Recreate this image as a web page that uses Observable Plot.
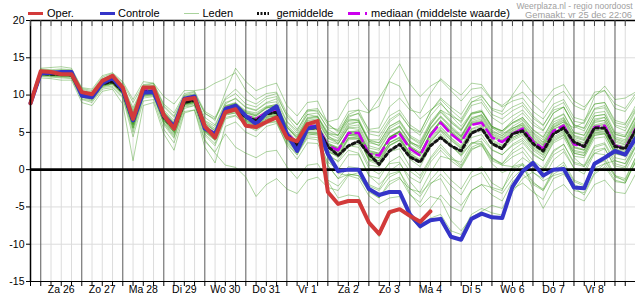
<!DOCTYPE html>
<html>
<head>
<meta charset="utf-8">
<script src="https://cdn.jsdelivr.net/npm/d3@7"></script>
<script src="https://cdn.jsdelivr.net/npm/@observablehq/plot@0.6"></script>
<style>
  body { margin: 0; background: #fff; font-family: "Liberation Sans", Arial, sans-serif; }
  #wrap { position: relative; width: 635px; height: 300px; }
  #legend { position: absolute; left: 0; top: 0; }
</style>
</head>
<body>
<div id="wrap">
  <div id="chart"></div>
  <svg id="legend" width="635" height="20" font-family="Liberation Sans, Arial, sans-serif">
    <g font-size="11" fill="#000">
      <line x1="28" x2="43" y1="13.5" y2="13.5" stroke="#d23a3a" stroke-width="3"/>
      <text x="47" y="17.3">Oper.</text>
      <line x1="100" x2="115" y1="13.5" y2="13.5" stroke="#3434c8" stroke-width="3"/>
      <text x="118" y="17.3">Controle</text>
      <line x1="184" x2="199" y1="13.5" y2="13.5" stroke="#a9d39c" stroke-width="1"/>
      <text x="202.5" y="17.3">Leden</text>
      <line x1="257" x2="269" y1="13.5" y2="13.5" stroke="#111" stroke-width="3" stroke-dasharray="2,1.5"/>
      <text x="276.5" y="17.3">gemiddelde</text>
      <line x1="348" x2="367" y1="13.5" y2="13.5" stroke="#cc00ee" stroke-width="3" stroke-dasharray="12,5"/>
      <text x="371" y="17.3">mediaan (middelste waarde)</text>
    </g>
    <g font-size="8.6" fill="#a0a0a0" text-anchor="end">
      <text x="632.5" y="9" textLength="116" lengthAdjust="spacingAndGlyphs">Weerplaza.nl - regio noordoost</text>
      <text x="632" y="17.5" textLength="107" lengthAdjust="spacingAndGlyphs">Gemaakt: vr 25 dec 22:06</text>
    </g>
  </svg>
</div>
<script>
// 6-hourly temperature forecast (°C), starting 25 Dec 18:00
const startTime = Date.UTC(2020, 11, 25, 18);

const dagLabels = ["Za 26", "Zo 27", "Ma 28", "Di 29", "Wo 30", "Do 31", "Vr 1",
                   "Za 2", "Zo 3", "Ma 4", "Di 5", "Wo 6", "Do 7", "Vr 8"];
const yTicks = [-15, -10, -5, 0, 5, 10, 15, 20];

// operational run (shorter horizon)
const oper = [8.9,13.2,13.1,12.8,12.8,10.4,10.1,11.9,12.6,11.0,
  6.8,11.0,11.0,7.3,5.5,9.4,9.6,5.8,4.3,7.7,
  8.1,5.9,5.7,6.4,7.0,4.3,3.8,6.1,6.5,-3.0,
  -4.6,-4.2,-4.2,-7.1,-8.6,-5.7,-5.3,-6.2,-7.0,-5.6];

// control run
const controle = [8.9,12.9,13.0,13.1,13.1,9.9,9.7,11.6,12.3,10.7,
  6.6,10.3,10.4,7.2,5.8,9.5,9.8,5.5,4.7,8.1,
  8.6,7.2,6.1,7.6,8.5,4.8,2.5,5.5,5.8,2.1,
  -0.2,0.0,0.0,-2.6,-3.4,-3.0,-3.0,-6.0,-7.6,-6.8,
  -6.6,-9.0,-9.4,-6.6,-5.9,-6.4,-6.5,-2.3,-0.2,0.9,
  -0.8,0.0,0.1,-2.4,-2.5,0.8,1.6,2.5,2.0,4.2];

// ensemble mean
const gemiddelde = [8.9,12.9,12.8,12.8,12.7,10.1,9.8,11.5,11.8,10.5,
  6.5,10.4,10.5,7.0,5.5,9.0,9.3,5.6,4.6,7.9,
  8.2,7.0,6.6,7.5,7.7,4.8,3.2,5.6,5.6,3.1,
  1.9,3.2,3.8,2.1,0.7,2.5,3.4,1.7,1.0,3.2,
  4.3,3.2,2.5,4.9,5.5,3.5,2.8,4.8,5.2,3.5,
  2.5,4.8,5.6,3.7,3.1,5.6,5.6,3.1,2.8,5.3];

// ensemble median
const mediaan = [8.9,13.0,12.9,12.9,12.8,10.2,9.9,11.7,12.0,10.8,
  7.0,10.6,10.7,7.3,5.8,9.2,9.5,5.8,4.8,8.3,
  8.5,7.2,6.8,7.7,8.0,4.9,3.6,5.8,5.9,3.2,
  2.6,4.9,4.9,2.1,1.9,4.1,4.8,2.8,1.9,4.6,
  6.3,4.8,3.7,6.0,6.3,4.3,3.7,4.8,5.5,3.8,
  2.8,5.2,5.9,3.4,3.1,5.7,5.9,3.2,2.9,5.5];

// ensemble members
const leden = [
 [8.9,13.1,13.0,13.2,13.0,10.5,10.0,11.8,12.3,10.9,7.5,10.8,11.0,7.8,6.2,9.5,9.9,6.5,5.5,8.5,
  8.9,7.6,7.2,8.3,8.6,5.7,4.4,6.5,6.6,4.2,3.5,5.8,6.0,3.2,2.8,5.0,5.9,3.8,2.9,5.6,
  7.2,5.9,4.6,7.0,7.3,5.3,4.5,5.8,6.6,4.9,3.7,6.1,6.9,4.5,4.0,6.6,7.0,4.2,3.8,6.4],
 [8.8,12.7,12.6,12.5,12.4,9.8,9.4,11.2,11.5,10.1,5.8,10.0,10.1,6.4,4.8,8.6,8.9,5.0,3.9,7.3,
  7.6,6.4,5.9,6.8,7.0,4.0,2.5,4.9,4.8,2.4,1.8,4.0,4.1,1.3,1.0,3.2,3.9,1.9,0.9,3.6,
  5.3,3.9,2.8,5.1,5.2,3.3,2.7,3.9,4.6,2.8,1.9,4.2,4.9,2.4,2.2,4.8,4.9,2.2,1.9,4.5],
 [9.0,13.3,13.2,13.4,13.3,10.8,10.4,12.2,12.7,11.3,8.3,11.3,11.5,8.6,7.2,10.0,10.4,7.5,6.8,9.4,
  10.2,8.8,8.4,9.5,9.8,7.3,6.0,8.0,8.2,6.0,5.2,7.2,7.5,4.8,4.5,6.7,7.6,5.6,4.6,7.2,
  8.8,7.5,6.3,8.6,9.0,7.0,6.1,7.2,8.0,6.4,5.3,7.6,8.4,6.0,5.5,8.1,8.3,5.8,5.2,7.8],
 [8.9,12.8,12.9,13.0,12.9,9.9,9.6,11.4,12.0,10.6,6.2,10.2,10.3,6.9,5.3,9.1,9.5,5.3,4.2,7.8,
  8.4,7.4,6.2,7.4,8.1,4.5,2.8,5.3,5.5,1.5,-0.5,-0.8,-1.2,-3.5,-4.6,-3.8,-3.6,-6.4,-7.9,-6.5,
  -6.0,-8.2,-8.7,-6.0,-5.2,-5.8,-6.1,-3.0,-1.2,-0.3,-1.5,-0.8,-0.4,-2.8,-3.1,-0.4,0.8,1.2,0.8,3.1],
 [8.8,12.6,12.5,12.4,12.3,9.5,9.2,11.0,11.2,9.8,5.0,9.6,9.8,6.0,4.2,8.2,8.6,4.6,3.2,6.8,
  7.2,5.9,5.2,6.2,6.4,3.2,1.4,3.6,3.5,0.5,-1.2,0.4,0.2,-2.2,-2.8,-1.0,-0.3,-2.5,-3.6,-1.4,
  0.2,-1.4,-2.6,-0.3,0.4,-1.8,-2.6,-0.5,0.8,-0.4,-1.2,1.3,2.4,0.2,-0.6,2.2,2.8,0.5,0.2,3.0],
 [9.0,13.5,13.4,13.5,13.4,10.9,10.6,12.4,12.9,11.6,9.0,11.4,11.6,8.8,7.6,10.2,10.5,7.8,7.0,9.6,
  10.8,9.4,8.8,9.8,10.2,7.1,5.4,7.4,7.1,4.6,3.5,5.6,5.4,2.6,2.2,4.4,5.1,3.0,2.2,4.8,
  6.6,5.0,3.9,6.2,6.4,4.5,3.8,5.0,5.6,3.9,3.0,5.4,6.1,3.6,3.2,5.8,6.0,3.4,3.0,5.6],
 [8.9,13.0,12.9,13.0,12.9,10.3,10.0,11.7,12.2,10.9,7.2,10.9,11.0,7.8,6.4,9.6,10.0,6.6,5.8,8.8,
  9.6,8.4,8.0,9.0,9.5,6.5,5.2,7.8,8.0,6.4,6.8,9.2,9.6,7.8,8.5,12.0,14.2,11.5,9.8,11.2,
  12.0,10.6,9.2,10.8,11.0,9.3,8.6,9.7,10.4,8.8,7.6,9.8,10.5,8.6,8.0,10.4,10.6,8.2,7.8,9.8],
 [8.9,12.9,12.7,12.6,12.6,10.0,9.7,11.4,11.7,10.4,6.0,10.3,10.4,6.8,5.2,8.9,9.2,5.4,4.3,7.7,
  8.0,6.9,6.4,7.4,7.6,4.6,3.0,5.5,5.7,3.4,2.8,4.6,4.4,1.8,1.6,4.4,5.2,3.2,2.4,4.2,
  5.8,4.3,3.2,5.5,6.0,4.0,3.3,4.3,5.0,3.2,2.2,4.7,5.5,3.1,2.7,5.2,5.4,2.7,2.6,5.0],
 [9.0,13.2,13.1,13.0,13.0,10.6,10.3,12.1,12.5,11.2,8.0,11.2,11.3,8.4,7.0,9.9,10.2,7.6,6.6,10.4,
  13.6,11.8,10.6,11.2,11.6,8.6,7.2,9.0,9.2,6.2,5.0,6.8,6.6,3.8,3.2,5.2,5.8,3.8,3.0,5.4,
  7.0,5.6,4.4,6.6,7.0,5.0,4.3,5.5,6.2,4.5,3.4,5.8,6.6,4.1,3.6,6.3,6.6,3.9,3.4,6.1],
 [8.8,12.5,12.4,12.3,12.2,9.4,9.0,10.8,11.0,9.6,4.4,9.2,9.4,5.4,3.6,7.8,8.0,3.8,2.4,4.8,
  3.0,2.2,1.6,2.4,2.6,0.4,-1.2,0.6,0.8,-1.4,-2.2,-0.6,-0.8,-3.0,-3.8,-1.6,-1.0,-3.4,-4.4,-2.0,
  -0.6,-2.2,-3.4,-1.0,-0.4,-2.6,-3.2,-1.2,0.2,-1.8,-2.6,0.0,1.0,-1.4,-2.0,0.8,1.4,-0.8,-1.2,1.6],
 [8.9,12.8,12.7,12.7,12.6,9.9,9.5,11.3,11.6,10.2,5.6,10.0,10.2,6.6,5.0,8.8,9.1,5.2,4.0,7.6,
  7.9,6.6,6.0,7.0,7.2,4.2,2.6,5.0,4.9,2.2,1.0,2.6,2.2,-0.8,-2.0,-0.6,-0.2,-3.2,-5.0,-3.6,
  -4.0,-6.8,-8.2,-6.4,-5.6,-4.8,-5.2,-2.6,-1.8,-3.0,-4.0,-1.2,-0.6,-2.4,-3.4,-0.6,0.4,-1.6,-1.8,1.2],
 [8.9,13.0,12.8,12.9,12.8,10.2,9.9,11.6,11.9,10.6,6.8,10.5,10.6,7.2,5.7,9.1,9.4,5.9,4.9,8.1,
  8.4,7.2,6.9,7.8,8.0,5.2,3.6,6.0,6.1,3.8,3.4,5.6,5.7,2.9,2.6,4.9,5.7,3.6,2.7,5.5,
  7.1,5.7,4.5,6.8,7.2,5.1,4.6,5.5,6.3,4.7,3.6,6.0,6.7,4.3,3.9,6.5,6.6,4.1,3.6,6.2],
 [8.9,12.7,12.6,12.6,12.5,9.9,9.5,11.3,11.6,10.2,6.4,10.2,10.3,6.9,5.4,8.8,9.0,5.5,4.5,7.8,
  8.0,6.8,6.5,7.3,7.5,4.6,3.0,5.4,5.4,3.0,2.4,4.6,4.8,2.2,2.0,4.3,5.2,3.6,3.2,6.0,
  8.0,7.2,6.5,9.0,9.8,8.2,7.8,10.0,12.0,10.2,9.0,10.8,11.4,9.2,8.4,10.0,10.6,8.8,8.2,10.2],
 [8.9,12.9,12.9,12.9,12.8,10.1,9.8,11.6,11.9,10.5,6.6,10.4,10.5,7.1,5.6,9.0,9.4,5.7,4.7,8.0,
  8.3,7.0,6.7,7.6,7.8,4.9,3.3,5.7,5.7,3.3,2.7,4.8,4.8,2.0,1.6,3.6,4.2,2.0,1.0,3.4,
  4.8,3.2,1.8,3.6,3.8,1.6,0.6,0.4,0.8,-2.6,-5.2,-2.8,-2.0,-3.6,-4.2,-2.0,-1.4,-3.0,-3.2,-0.6],
 [9.0,13.4,13.3,13.1,13.1,10.6,10.2,11.9,12.4,11.1,7.8,11.0,11.2,8.0,6.6,9.8,10.1,7.0,6.0,9.0,
  9.5,8.3,7.9,8.9,9.1,6.4,4.9,7.4,7.6,5.6,5.4,7.8,8.0,5.2,5.0,7.2,8.0,6.0,5.1,7.8,
  9.4,8.0,6.8,9.1,9.4,7.4,6.8,7.9,8.6,6.9,5.9,8.3,9.0,6.5,6.2,8.8,9.0,6.3,6.0,8.6],
 [8.8,12.6,12.6,12.6,12.5,9.8,9.5,11.2,11.5,10.1,5.6,9.9,10.0,6.3,4.6,8.5,8.8,4.8,3.5,7.0,
  7.3,6.0,5.4,6.3,6.5,3.6,2.0,4.2,4.0,1.0,0.0,2.0,2.0,-0.8,-1.2,1.0,1.8,-0.2,-1.2,1.4,
  3.0,1.6,0.4,2.8,3.2,1.2,0.6,1.7,2.4,0.6,-0.4,2.0,2.8,0.2,-0.2,2.6,2.9,0.2,-0.2,2.4],
 [8.8,12.3,12.2,12.0,12.0,9.0,8.6,10.5,10.8,8.8,1.2,8.6,9.0,4.8,2.6,7.6,8.0,3.0,0.9,5.8,
  6.4,5.0,4.4,5.8,6.2,3.4,2.0,4.6,4.8,2.4,1.8,4.2,4.4,1.6,1.2,3.6,4.4,2.2,1.4,4.0,
  5.6,4.2,3.0,5.4,5.8,3.8,3.2,4.3,5.0,3.3,2.3,4.7,5.4,2.9,2.6,5.2,5.4,2.7,2.4,5.0],
 [9.0,13.6,13.7,13.8,13.6,11.0,10.8,12.6,13.0,11.8,9.4,11.8,11.6,9.8,8.8,10.6,10.6,10.8,11.6,12.2,
  13.0,10.6,9.4,10.2,10.4,7.6,6.0,8.0,7.8,5.4,4.6,6.6,6.8,4.0,3.6,5.8,6.5,4.4,3.6,6.2,
  7.8,6.4,5.3,7.5,7.8,5.8,5.2,6.3,7.0,5.4,4.4,6.8,7.5,5.0,4.6,7.2,7.4,4.8,4.4,7.0],
 [8.9,12.7,12.6,12.5,12.5,9.7,9.3,11.1,11.4,10.0,5.4,9.8,9.9,6.2,4.4,8.4,8.6,4.0,2.2,0.6,
  0.3,-1.0,-3.6,-2.0,-1.2,-2.6,-3.2,-1.4,-1.0,-2.4,-2.8,-0.8,-0.4,-2.0,-2.6,-0.2,0.8,-1.0,-1.8,1.0,
  2.6,1.2,0.2,2.6,3.4,1.4,0.8,2.2,3.0,1.2,0.2,2.6,3.4,0.8,0.4,3.0,3.4,0.8,0.4,3.2],
 [8.9,12.9,12.8,12.8,12.7,10.1,9.9,11.5,11.8,10.5,6.9,10.4,10.5,7.0,5.4,9.1,9.3,5.7,4.6,7.9,
  8.2,7.1,6.7,7.6,7.8,4.9,3.3,5.8,5.9,3.5,3.0,5.0,5.2,2.5,2.2,4.3,5.0,3.0,2.2,4.8,
  6.4,5.0,3.9,6.1,6.5,4.5,3.9,5.0,5.7,4.0,3.0,5.4,6.1,3.6,3.3,5.9,6.1,3.4,3.1,5.7],
 [9.0,13.1,13.0,12.9,12.9,10.4,10.1,11.8,12.1,10.8,7.4,10.8,10.9,7.6,6.2,9.4,9.7,6.2,5.2,8.4,
  8.8,7.8,7.4,8.4,8.8,6.0,4.6,7.0,7.2,5.0,4.6,7.0,7.6,5.4,5.6,8.4,9.6,8.0,7.6,10.2,
  12.2,11.0,10.0,11.6,11.4,9.4,8.4,9.2,9.6,7.8,6.8,8.8,9.4,7.0,6.6,8.8,9.0,6.6,6.2,8.2],
 [8.9,13.0,13.0,12.9,12.8,10.2,9.9,11.7,12.1,10.7,6.5,10.6,10.6,7.1,5.4,9.2,9.4,5.5,4.4,7.6,
  7.9,6.2,5.8,6.6,7.0,4.2,3.4,5.8,5.6,-1.6,-3.8,-3.4,-3.6,-7.0,-9.0,-6.0,-5.4,-6.4,-7.6,-5.2,
  -3.4,-5.0,-5.6,-2.8,-2.0,-3.4,-4.2,-1.6,-0.6,-2.0,-2.8,-0.2,0.6,-1.6,-2.2,0.6,1.2,-1.0,-1.4,1.6],
 [8.8,12.8,12.7,12.6,12.6,9.9,9.6,11.3,11.6,10.3,6.2,10.1,10.2,6.6,5.0,8.7,9.0,5.2,4.1,7.4,
  7.6,6.3,5.9,6.8,7.0,3.8,2.2,4.4,4.3,1.8,1.2,3.2,3.4,0.6,0.4,2.4,3.4,1.4,0.4,3.0,
  4.6,3.2,2.0,4.3,4.7,2.7,2.0,3.2,3.9,2.2,1.2,3.6,4.3,1.8,1.6,4.2,4.4,1.6,1.3,4.0],
 [9.0,13.0,12.9,13.1,13.0,10.4,10.0,11.7,12.0,10.7,7.0,10.7,10.8,7.4,6.0,9.4,9.6,6.0,5.0,8.3,
  8.8,7.6,7.2,8.2,8.6,5.6,4.2,6.8,7.0,4.8,4.6,7.4,8.0,7.6,9.6,11.8,11.2,8.4,6.8,8.0,
  9.0,7.2,5.8,7.6,8.0,5.8,5.0,6.2,6.8,5.0,4.0,6.4,7.0,4.6,4.2,6.8,7.0,4.4,4.0,6.6],
 [8.9,12.8,12.8,12.7,12.7,10.0,9.6,11.4,11.7,10.3,6.1,10.2,10.3,6.8,5.2,8.8,9.1,5.4,4.4,7.7,
  8.0,6.7,6.2,7.2,7.4,4.4,2.8,5.2,5.2,2.6,1.6,3.2,3.0,0.2,-0.6,0.8,1.0,-1.6,-3.2,-1.8,
  -1.2,-3.6,-4.8,-2.8,-2.0,-2.4,-2.8,0.4,1.6,0.6,-0.2,2.4,3.4,1.0,0.6,3.2,3.6,1.2,0.8,3.6],
 [9.0,13.2,13.2,13.1,13.1,10.5,10.2,12.0,12.4,11.0,7.6,10.9,11.1,7.7,6.1,9.6,9.9,6.4,5.3,8.6,
  9.0,7.9,7.6,8.5,8.7,5.8,4.1,6.6,6.8,4.4,3.9,6.2,6.4,3.6,3.3,5.5,6.3,4.3,3.4,6.0,
  7.7,6.3,5.2,7.4,7.8,5.8,5.2,6.3,7.0,5.3,4.3,6.7,7.4,4.9,4.6,7.2,7.4,4.7,4.4,7.0],
 [8.9,12.9,12.8,12.8,12.7,10.0,9.7,11.4,11.7,10.4,6.3,10.3,10.4,6.9,5.3,8.9,9.2,5.5,4.5,7.8,
  8.1,6.9,6.5,7.4,7.6,4.7,3.1,5.5,5.5,3.0,2.4,4.6,4.6,1.8,1.5,3.6,4.3,2.2,1.2,3.8,
  5.2,3.4,2.0,3.6,3.4,0.8,-0.4,0.2,0.6,-1.6,-2.8,-0.6,0.2,-2.0,-2.6,0.2,0.8,-1.4,-1.8,1.0],
 [8.9,13.0,12.9,12.8,12.8,10.2,9.9,11.6,11.9,10.6,6.7,10.5,10.6,7.1,5.6,9.1,9.4,5.7,4.7,8.0,
  8.3,7.1,6.7,7.6,7.8,4.9,3.3,5.7,5.8,3.4,2.8,5.1,5.2,2.4,2.1,4.3,5.1,3.1,2.2,4.9,
  6.5,5.1,4.0,6.3,6.6,4.7,4.0,5.2,5.8,4.1,3.2,5.6,6.4,5.6,6.4,9.8,11.2,9.4,9.6,10.4],
 [8.8,12.7,12.7,12.6,12.6,9.9,9.6,11.3,11.6,10.2,6.0,10.0,10.1,6.6,5.0,8.7,9.0,5.1,4.0,7.5,
  7.8,6.5,6.0,7.0,7.2,4.0,2.4,4.8,4.6,0.6,-1.2,-0.6,-0.8,-2.8,-3.8,-2.0,-1.2,-2.6,-3.0,-0.4,
  1.8,1.4,1.0,3.4,4.2,2.6,2.0,3.4,4.2,2.6,1.6,4.0,4.7,2.2,1.9,4.6,4.8,2.1,1.8,4.4],
 [9.0,13.1,13.0,13.0,12.9,10.3,10.0,11.7,12.0,10.7,7.1,10.6,10.7,7.3,5.8,9.2,9.5,5.9,4.9,8.2,
  8.6,7.4,7.0,7.9,8.2,5.3,3.8,6.2,6.4,4.2,3.8,6.0,6.4,4.0,4.0,6.4,7.4,5.6,5.0,7.8,
  9.6,8.4,7.4,9.6,10.0,8.0,7.4,8.4,9.0,7.2,6.0,8.0,8.4,5.8,5.2,7.6,7.8,5.0,4.6,7.2],
 [9.0,13.0,12.9,12.9,12.8,10.1,9.8,11.6,11.9,10.6,6.6,10.5,10.6,7.2,5.7,9.1,9.4,5.8,4.8,8.1,
  8.5,7.3,6.9,7.7,7.9,5.0,3.5,5.9,6.0,3.6,2.9,4.8,4.6,1.4,0.8,3.2,4.0,2.4,1.8,4.6,
  6.4,5.2,4.2,6.4,6.8,4.8,4.2,5.3,6.0,4.3,3.3,5.7,6.4,3.9,3.5,6.0,6.3,3.7,3.3,5.9],
 [8.9,13.1,13.1,13.0,12.9,10.3,10.1,11.8,12.2,10.8,7.2,10.7,10.8,7.5,6.0,9.3,9.6,6.2,5.2,8.5,
  8.9,7.7,7.3,8.3,8.5,5.8,4.4,6.9,7.1,4.8,4.2,6.5,6.6,3.8,3.6,5.8,6.6,4.6,3.8,6.4,
  8.0,6.6,5.4,7.6,7.8,5.6,4.8,5.6,6.0,4.0,2.8,5.0,5.6,3.0,2.6,5.0,5.2,2.4,2.0,4.6],
 [8.8,12.8,12.7,12.7,12.6,9.9,9.6,11.4,11.7,10.3,6.1,10.2,10.3,6.8,5.2,8.8,9.1,5.3,4.2,7.5,
  7.8,6.6,6.2,7.1,7.3,4.3,2.7,5.0,5.0,2.6,2.0,4.2,4.2,1.4,1.2,3.3,4.0,2.0,1.2,3.8,
  5.4,4.0,2.9,5.2,5.5,3.6,3.0,4.1,4.8,3.0,2.0,4.4,5.1,2.6,2.3,4.9,5.1,2.4,2.1,4.7],
 [8.9,12.9,12.8,12.7,12.7,10.0,9.7,11.5,11.8,10.4,6.4,10.3,10.4,6.9,5.4,8.9,9.2,5.5,4.5,7.8,
  8.1,6.9,6.4,7.3,7.5,4.6,3.0,5.4,5.5,3.0,2.2,4.3,4.2,1.2,0.6,2.4,2.8,0.4,-0.8,1.6,
  3.4,1.8,0.6,3.0,3.6,1.6,0.8,2.6,3.6,2.0,1.2,3.8,4.6,2.2,1.9,4.6,4.8,2.2,1.9,4.6],
 [9.0,13.0,12.9,12.8,12.8,10.2,9.9,11.6,11.9,10.6,6.8,10.5,10.6,7.1,5.6,9.1,9.4,5.7,4.7,8.0,
  8.3,7.1,6.7,7.6,7.8,4.9,3.3,5.7,5.7,3.4,2.8,5.0,5.0,2.3,2.0,4.3,5.0,3.0,2.2,4.9,
  6.6,5.4,4.4,6.8,7.4,5.6,5.2,6.6,7.6,6.0,5.2,7.6,8.4,6.0,5.6,8.2,8.6,6.0,5.6,8.0],
 [8.9,12.9,12.8,12.8,12.7,10.1,9.8,11.5,11.8,10.5,6.5,10.4,10.5,7.0,5.5,9.0,9.3,5.6,4.6,7.9,
  8.2,7.0,6.6,7.5,7.7,4.8,3.2,5.6,5.6,3.2,2.6,4.9,4.9,2.1,1.9,4.1,4.8,2.8,1.9,4.6,
  6.3,4.8,3.7,6.0,6.3,4.3,3.7,4.8,5.5,3.8,2.8,5.0,5.2,1.6,0.4,2.2,2.0,-0.8,-1.6,1.0]
];

// --- time helpers -----------------------------------------------------------
const SIX_HOURS = 6 * 3600 * 1000;
const at = i => new Date(startTime + i * SIX_HOURS);
const toRows = (values, name) => values.map((v, i) => ({t: at(i), v, name}));

const nSteps = controle.length;
const steps = d3.range(nSteps).map(at);
const midnights = steps.filter(d => d.getUTCHours() === 0);
const minorSteps = steps.filter(d => d.getUTCHours() !== 0);
const dayLabelRows = dagLabels.map((label, k) => ({t: new Date(Date.UTC(2020, 11, 26 + k, 12)), label}));
const memberRows = leden.flatMap((vals, m) => toRows(vals, "lid" + m));

const chart = Plot.plot({
  width: 635,
  height: 300,
  marginTop: 20,
  marginBottom: 19,
  marginLeft: 30,
  marginRight: 0,
  style: {fontFamily: "Liberation Sans, Arial, sans-serif", fontSize: "10.5px", background: "transparent", overflow: "visible"},
  x: {type: "utc", domain: [steps[0], steps[nSteps - 1]], axis: null},
  y: {domain: [-15, 20], axis: null},
  marks: [
    // grid
    Plot.ruleY(yTicks.filter(v => v !== 0 && v !== 20 && v !== -15), {stroke: "#dcdcdc"}),
    Plot.ruleX(minorSteps, {stroke: "#dcdcdc"}),
    Plot.ruleX(midnights, {stroke: "#5a5a5a"}),
    // ensemble members
    Plot.line(memberRows, {x: "t", y: "v", z: "name", stroke: "#3d9b1f", strokeOpacity: 0.42, strokeWidth: 1}),
    // zero line
    Plot.ruleY([0], {stroke: "#000", strokeWidth: 2.6}),
    // statistics
    Plot.line(toRows(mediaan, "mediaan"), {x: "t", y: "v", stroke: "#cc00ee", strokeWidth: 2.5, strokeDasharray: "12,5"}),
    Plot.line(toRows(gemiddelde, "gemiddelde"), {x: "t", y: "v", stroke: "#151515", strokeWidth: 3, strokeDasharray: "3,3"}),
    // control and operational runs
    Plot.line(toRows(controle, "controle"), {x: "t", y: "v", stroke: "#3434c8", strokeWidth: 4}),
    Plot.line(toRows(oper, "oper"), {x: "t", y: "v", stroke: "#d23a3a", strokeWidth: 4}),
    // frame
    Plot.ruleY([20], {stroke: "#000", strokeWidth: 1.5}),
    Plot.ruleY([-15], {stroke: "#000"}),
    Plot.ruleX([steps[0]], {stroke: "#000", strokeWidth: 1.5}),
    // 6-hourly ticks, top (inward) and bottom (outward)
    Plot.ruleX(steps, {y1: 20, y2: 20, insetBottom: -6, stroke: "#444"}),
    Plot.ruleX(steps, {y1: -15, y2: -15, insetBottom: -5, stroke: "#000"}),
    // axes
    Plot.axisY(yTicks, {anchor: "left", tickSize: 4, tickPadding: 2, tickFormat: d => String(d), fontSize: 10.5, label: null}),
    Plot.text(dayLabelRows, {x: "t", text: "label", frameAnchor: "bottom", dy: 11.5, fontSize: 10.5, fill: "#000"})
  ]
});

document.getElementById("chart").appendChild(chart);
</script>
</body>
</html>
